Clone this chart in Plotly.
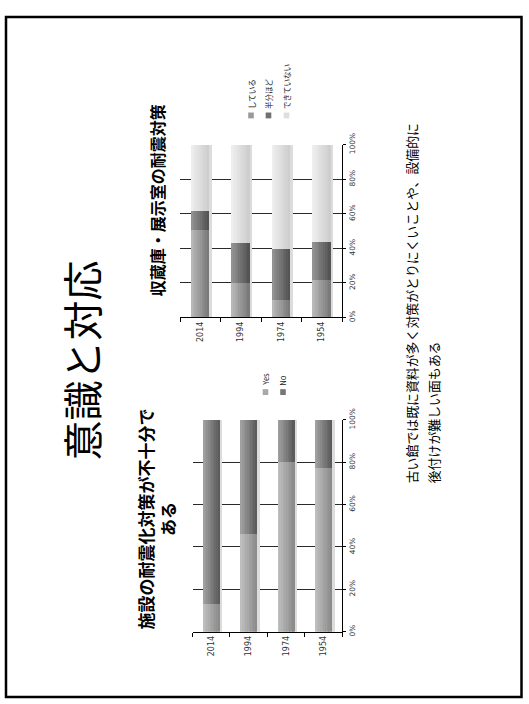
import plotly.graph_objects as go

W, H = 529, 704

# ---- data -------------------------------------------------------------
years = ["2014", "1994", "1974", "1954"]

# 収蔵庫・展示室の耐震対策 (%)
storage_labels = ["している", "半分ほど", "できていない"]
storage_done = [51, 20, 10, 22]
storage_half = [11, 23, 30, 22]
storage_none = [38, 57, 60, 56]

# 施設の耐震化対策が不十分である (%)
facility_labels = ["Yes", "No"]
facility_yes = [13, 46, 80, 77.5]
facility_no = [87, 54, 20, 22.5]

value_ticks = [0, 0.2, 0.4, 0.6, 0.8, 1.0]

# ---- helpers ----------------------------------------------------------
def px(x):
    return x / W


def py(y):
    return 1 - y / H


def ramp(c0, c1, n):
    """Linear grey ramp from c0 to c1 (0-255 levels)."""
    out = []
    for i in range(n):
        v = round(c0 + (c1 - c0) * i / (n - 1))
        out.append(f"rgb({v},{v},{v})")
    return out


fig = go.Figure()

BAR_W = 0.435
N_STRIPS = 10


def add_stack(series, ramps, xa, ya):
    """Draw stacked bars as vertical strips to give a shaded cylinder look."""
    base = [0.0] * len(years)
    strip = BAR_W / N_STRIPS
    # soft shadow on the right side of each bar
    fig.add_bar(x=years, y=[sum(s[i] for s in series) / 100 for i in range(len(years))],
                base=[0] * len(years), width=0.07, offset=BAR_W / 2,
                marker=dict(color="#dcdcdc", line_width=0),
                xaxis=xa, yaxis=ya, showlegend=False, hoverinfo="skip")
    for vals, (c0, c1) in zip(series, ramps):
        frac = [v / 100 for v in vals]
        for k, col in enumerate(ramp(c0, c1, N_STRIPS)):
            fig.add_bar(x=years, y=frac, base=base,
                        width=strip * 1.05, offset=-BAR_W / 2 + k * strip,
                        marker=dict(color=col, line_width=0),
                        xaxis=xa, yaxis=ya, showlegend=False, hoverinfo="skip")
        base = [b + f for b, f in zip(base, frac)]


add_stack([storage_done, storage_half, storage_none],
          [(184, 122), (146, 84), (238, 206)], "x", "y")
add_stack([facility_yes, facility_no],
          [(190, 140), (160, 92)], "x2", "y2")

# ---- axes ---------------------------------------------------------------
cat_font = dict(family="DejaVu Sans", size=8, color="#333")
val_font = dict(family="DejaVu Sans", size=7.5, color="#333")


def cat_axis(domain, anchor):
    return dict(domain=domain, anchor=anchor, type="category",
                categoryorder="array", categoryarray=years,
                showline=True, linecolor="black", linewidth=1,
                ticks="outside", ticklen=4, tickcolor="black",
                tickson="boundaries", tickangle=-90, tickfont=cat_font,
                showgrid=False, zeroline=False, fixedrange=True)


def val_axis(domain, anchor):
    return dict(domain=domain, anchor=anchor, range=[0, 1],
                tickvals=value_ticks, tickformat=".0%", side="right",
                showline=True, linecolor="black", linewidth=1,
                ticks="outside", ticklen=3, tickcolor="black",
                tickangle=-90, tickfont=val_font,
                showgrid=True, gridcolor="#2a2a2a", gridwidth=1,
                zeroline=False, fixedrange=True)


fig.update_layout(
    width=W, height=H,
    margin=dict(l=0, r=0, t=0, b=0),
    paper_bgcolor="white", plot_bgcolor="rgba(0,0,0,0)",
    barmode="overlay", bargap=0,
    xaxis=cat_axis([px(180), px(342)], "y"),
    yaxis=val_axis([py(313), py(136)], "x"),
    xaxis2=cat_axis([px(192.5), px(342)], "y2"),
    yaxis2=val_axis([py(635), py(418)], "x2"),
    showlegend=False,
)

# ---- text ---------------------------------------------------------------
jp = "Noto Sans CJK JP"
ann = []


def text(x, y, s, size, bold=False, xanchor="center", yanchor="middle", align="center", color="black"):
    ann.append(dict(x=px(x), y=py(y), xref="paper", yref="paper", text=f"<b>{s}</b>" if bold else s,
                    showarrow=False, textangle=-90, xanchor=xanchor, yanchor=yanchor, align=align,
                    font=dict(family=jp, size=size, color=color)))


text(81, 357, "意識と対応", 40)
text(157, 193, "収蔵庫・展示室の耐震対策", 16, bold=True)
text(156, 520, "施設の耐震化対策が不十分で<br>ある", 17, bold=True)
text(411, 485, "古い館では既に資料が多く対策がとりにくいことや、設備的に", 12.9, yanchor="bottom")
text(433, 485, "後付けが難しい面もある", 12.9, yanchor="bottom")

# legends (swatch + rotated label)
shapes = []


def legend_item(xc, y_sw, label, color):
    shapes.append(dict(type="rect", xref="paper", yref="paper",
                       x0=px(xc - 2.8), x1=px(xc + 2.8), y0=py(y_sw + 3), y1=py(y_sw - 3),
                       fillcolor=color, line_width=0))
    ann.append(dict(x=px(xc), y=py(y_sw - 4.5), xref="paper", yref="paper", text=label,
                    showarrow=False, textangle=-90, xanchor="center", yanchor="bottom",
                    font=dict(family=jp, size=7.5, color="#222")))


for xc, lab, col in zip([251, 268.5, 286.5], storage_labels, ["#9a9a9a", "#707070", "#dedede"]):
    legend_item(xc, 106, lab, col)
for xc, lab, col in zip([265.5, 283], facility_labels, ["#a8a8a8", "#777777"]):
    legend_item(xc, 389.5, lab, col)

# slide frame
shapes.append(dict(type="rect", xref="paper", yref="paper",
                   x0=px(6), x1=px(521.5), y0=py(702), y1=py(5),
                   line=dict(color="black", width=2.5), fillcolor="rgba(0,0,0,0)"))

fig.update_layout(annotations=ann, shapes=shapes)

fig.write_html("out.html")
